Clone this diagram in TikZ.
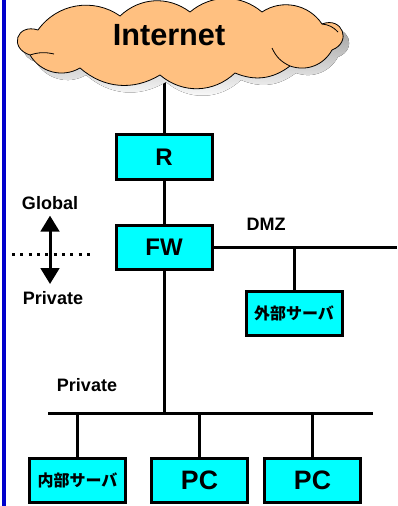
\documentclass[tikz,border=0pt]{standalone}
\usepackage{fontspec}
\setmainfont{Liberation Sans}
\newfontfamily\jpfont{Noto Sans CJK JP}
\usetikzlibrary{arrows.meta,positioning,backgrounds}
\definecolor{netfill}{HTML}{FFC080}
\definecolor{boxfill}{HTML}{00FFFF}
\definecolor{edgeblue}{HTML}{0000CC}
\definecolor{shade}{HTML}{808080}
\tikzset{
  devbox/.style={draw=black,line width=2.25pt,fill=boxfill,inner sep=0pt,
    font=\bfseries\fontsize{18}{18}\selectfont,minimum width=72pt,minimum height=33pt},
  pcbox/.style={devbox,font=\bfseries\fontsize{20}{20}\selectfont},
  jpbox/.style={devbox,font=\jpfont\bfseries\fontsize{12}{12}\selectfont},
  lbl/.style={font=\bfseries\fontsize{13.5}{13.5}\selectfont},
  wire/.style={line width=2.25pt},
  updown/.style={line width=2.25pt,{Triangle[length=12pt,width=14pt]}-{Triangle[length=12pt,width=14pt]}},
  zoneline/.style={line width=2.25pt,dash pattern=on 2.25pt off 4pt},
}
\newcommand{\netoutline}{(38,30) to[bend left=45] (120,16) to[bend left=40] (190,12)
  to[bend left=40] (262,12) to[bend left=45] (322,24) to[bend left=90,looseness=2] (332,50)
  to[bend left=40] (290,66) to[bend left=30] (235,73) to[bend left=42] (160,75)
  to[bend left=36] (80,68) to[bend left=45] (30,55) to[bend left=90,looseness=2.2] (38,30) -- cycle}

\begin{document}
\begin{tikzpicture}[x=0.75pt,y=-0.75pt]
  \useasboundingbox (0,0) rectangle (397,506);
  \fill[edgeblue] (2,0) rectangle (6,506);
  % internet cloud
  \fill[shade,shift={(6,7)}] \netoutline;
  \draw[fill=netfill,line width=0.6pt] \netoutline;
  \draw[line width=0.6pt] (30,55) to[bend left=15] (54,54);
  \draw[line width=0.6pt] (290,66) to[bend left=20] (272,48);
  \draw[line width=0.6pt] (322,24) to[bend left=20] (338,32);
  \coordinate (netbase) at (164,72);
  \node[font=\bfseries\fontsize{23}{23}\selectfont] (nettext) at (169,35) {Internet};
  % devices
  \node[devbox] (R) at (164,157) {R};
  \node[devbox] (FW) at (164,247) {FW};
  \node[jpbox] (ext) at (294,313) {外部サーバ};
  \node[jpbox] (int) at (77.5,480.5) {内部サーバ};
  \node[pcbox] (pcA) at (199.5,480.5) {PC};
  \node[pcbox] (pcB) at (312.5,480.5) {PC};
  % labels
  \node[lbl] (glob) at (50,203) {Global};
  \node[lbl] (priv) at (53,298) {Private};
  \node[lbl] (dmz) at (266,224) {DMZ};
  \node[lbl] (lan) at (87,385) {Private};
  % wiring
  \begin{scope}[on background layer]
    \draw[wire] (R.north) -- (netbase);
  \end{scope}
  \draw[wire] (R) -- (FW);
  \coordinate (dmzend) at (397,248);
  \draw[wire] (FW.east) -- (FW.east -| dmzend);
  \draw[wire] (ext.north) -- (ext.north |- FW.east);
  \coordinate (busL) at (48,413);
  \coordinate (busR) at (373,413);
  \draw[wire] (busL) -- (busR);
  \draw[wire] (FW.south) -- (FW.south |- busL);
  \foreach \b in {int,pcA,pcB}
    \draw[wire] (\b.north) -- (\b.north |- busL);
  % global / private boundary
  \coordinate (dotL) at (12,254);
  \coordinate (dotR) at (95,254);
  \draw[zoneline] (dotL) -- (dotR);
  \draw[updown,shorten <=1pt,shorten >=2pt] (glob.south) -- (glob.south |- priv.north);
\end{tikzpicture}
\end{document}
